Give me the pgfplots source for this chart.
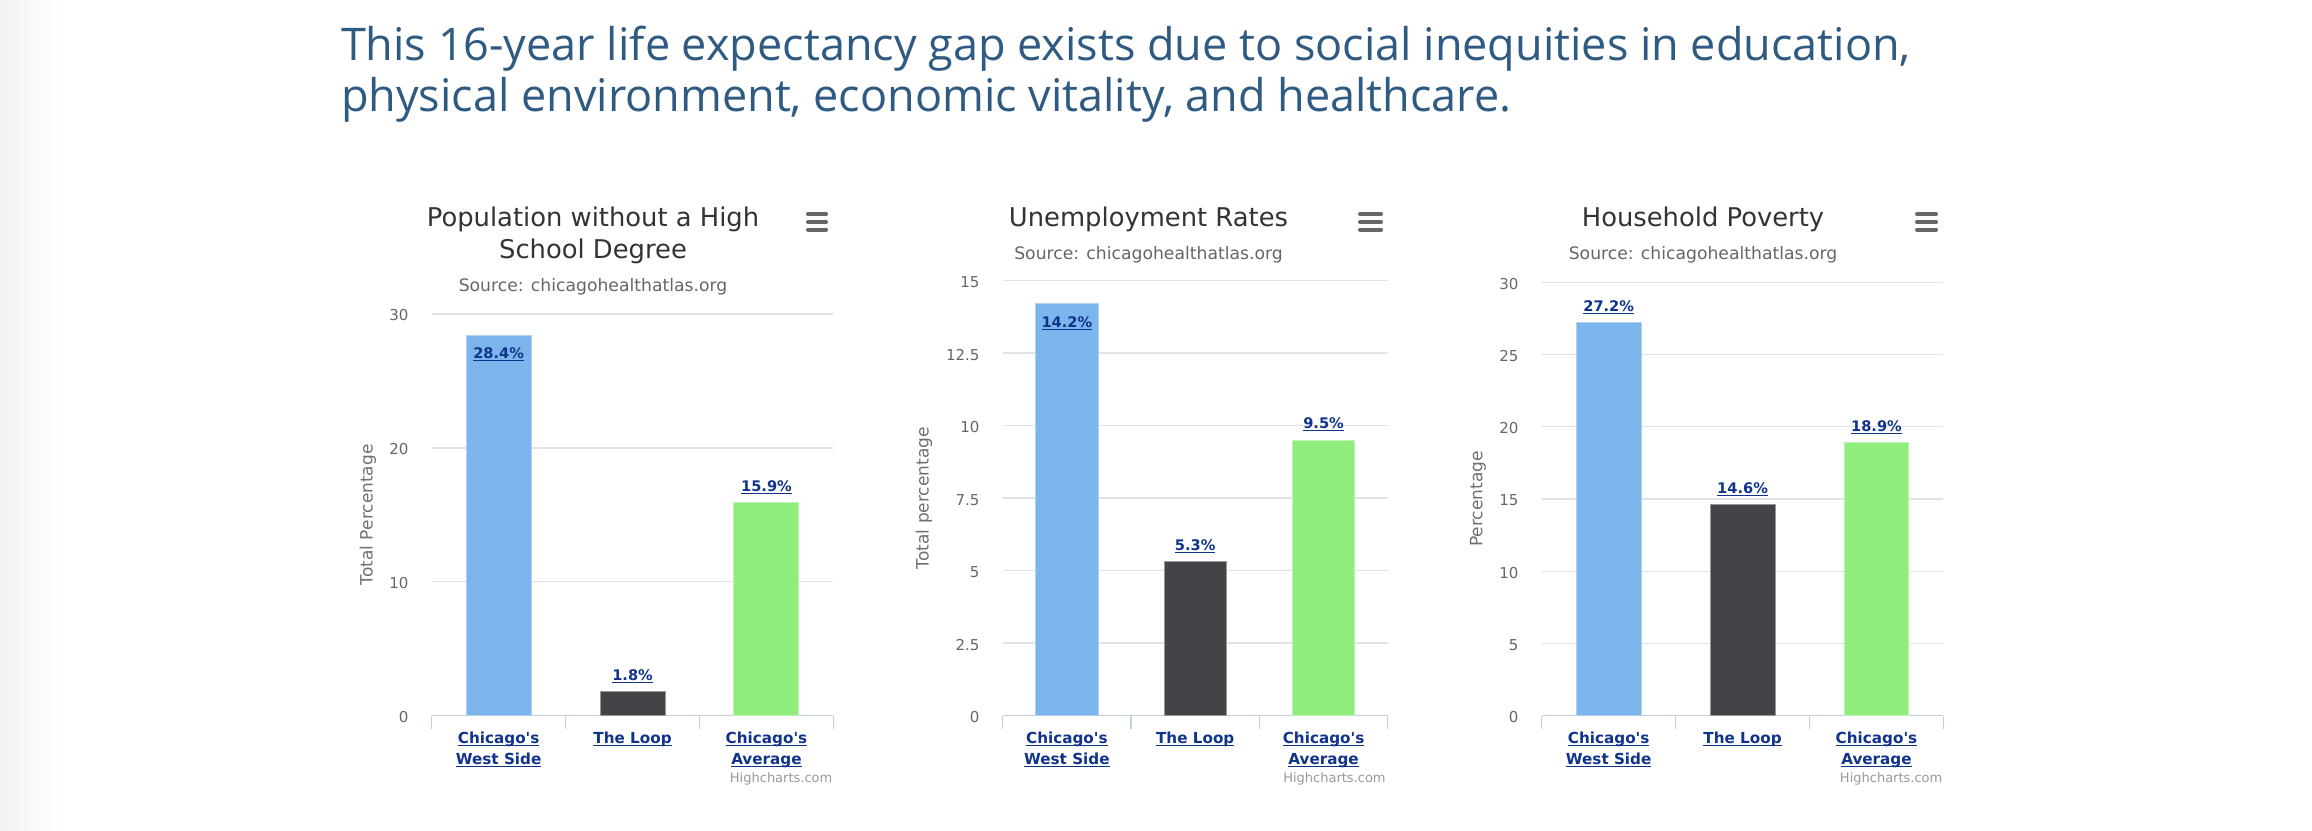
\documentclass[border=0pt]{standalone}
\usepackage{pgfplots}
\pgfplotsset{compat=1.18}
\usepackage{fontspec}
\setmainfont{DejaVu Sans}
\newfontfamily\headfont{Open Sans}
\definecolor{hblue}{HTML}{7CB5EC}
\definecolor{hdark}{HTML}{434348}
\definecolor{hgreen}{HTML}{90ED7D}
\definecolor{gridc}{HTML}{E3E3E3}
\definecolor{axc}{HTML}{C0D0E0}
\definecolor{linkc}{HTML}{10338C}
\definecolor{headc}{HTML}{2F5A82}
\definecolor{titlec}{HTML}{333333}
\definecolor{subc}{HTML}{666666}
\definecolor{axtc}{HTML}{707070}
\definecolor{credc}{HTML}{999999}

\newsavebox\ulbox
\newcommand\ul[1]{\sbox\ulbox{#1}\rlap{\rule[-1.3pt]{\wd\ulbox}{0.5pt}}\usebox\ulbox}

\tikzset{nnc/.style={font=\fontsize{7.3}{8.5}\selectfont\bfseries, text=linkc, anchor=base, inner sep=0pt}}

\pgfplotsset{
  hc/.style={
    scale only axis,
    anchor=south west,
    xmin=-0.5, xmax=2.5, ymin=0,
    axis x line*=bottom, axis y line*=left,
    y axis line style={draw=none,-},
    x axis line style={draw=axc, line width=0.75pt,-},
    ymajorgrids, major grid style={draw=gridc, line width=0.7pt},
    xtick={0,1,2},
    xticklabels={{\ul{Chicago\textquotesingle s}\\\ul{West Side}}, {\ul{The Loop}}, {\ul{Chicago\textquotesingle s}\\\ul{Average}}},
    major tick length=0pt,
    tick style={draw=axc, line width=0.75pt},
    extra x ticks={-0.5,0.5,1.5,2.5},
    extra x tick labels={},
    extra x tick style={tick align=outside, major tick length=6.85pt, grid=none},
    xticklabel style={font=\fontsize{7.6}{10.5}\selectfont\bfseries, text=linkc, align=center, anchor=north, inner sep=0pt, yshift=-8.1pt},
    yticklabel style={font=\fontsize{7.5}{9}\selectfont, text=subc, anchor=east, inner sep=0pt, xshift=-11.4pt, yshift=-0.8pt},
    /pgf/number format/assume math mode=true,
    ylabel style={font=\fontsize{8.5}{10}\selectfont, text=axtc, anchor=center},
    ybar, bar width=0.485, bar shift=0pt,
    nodes near coords={\ul{\pgfmathprintnumber[fixed,fixed zerofill,precision=1]{\pgfplotspointmeta}\%}},
    every node near coord/.style={nnc, yshift=5.7pt},
    clip=false,
  },
}

\begin{document}
\begin{tikzpicture}
\path[use as bounding box, fill=white] (0,0) rectangle (1156pt,415pt);
\shade[left color=black!5, right color=white] (0,0) rectangle (30pt,415pt);

% Header
\node[anchor=base west, inner sep=0pt, font=\headfont\fontsize{22.5}{26}\selectfont, text=headc] at (170.3pt,384.65pt) {This 16-year life expectancy gap exists due to social inequities in education,};
\node[anchor=base west, inner sep=0pt, font=\headfont\fontsize{22.5}{26}\selectfont, text=headc] at (170.3pt,359.15pt) {physical environment, economic vitality, and healthcare.};

% Chart 1
\begin{axis}[hc, at={(215.85pt,57.15pt)}, width=200.85pt, height=200.9pt,
  ymax=30, ytick={0,10,20,30},
  ylabel={Total Percentage}, ylabel style={at={(axis description cs:-0.1586,0.5)}}]
\addplot[fill=hblue, draw=hblue!60!white, line width=0.5pt, every node near coord/.style={nnc, yshift=-11.7pt}] coordinates {(0,28.4)};
\addplot[fill=hdark, draw=hdark!55!white, line width=0.5pt] coordinates {(1,1.8)};
\addplot[fill=hgreen, draw=hgreen!60!white, line width=0.5pt] coordinates {(2,15.9)};
\end{axis}

% Chart 2
\begin{axis}[hc, at={(501.35pt,57.15pt)}, width=192.5pt, height=217.55pt,
  ymax=15, ytick={0,2.5,5,7.5,10,12.5,15},
  ylabel={Total percentage}, ylabel style={at={(axis description cs:-0.2044,0.5)}}]
\addplot[fill=hblue, draw=hblue!60!white, line width=0.5pt, every node near coord/.style={nnc, yshift=-11.7pt}] coordinates {(0,14.2)};
\addplot[fill=hdark, draw=hdark!55!white, line width=0.5pt] coordinates {(1,5.3)};
\addplot[fill=hgreen, draw=hgreen!60!white, line width=0.5pt] coordinates {(2,9.5)};
\end{axis}

% Chart 3
\begin{axis}[hc, at={(770.85pt,57.15pt)}, width=200.85pt, height=216.75pt,
  ymax=30, ytick={0,5,10,15,20,25,30},
  ylabel={Percentage}, ylabel style={at={(axis description cs:-0.1586,0.5)}}]
\addplot[fill=hblue, draw=hblue!60!white, line width=0.5pt] coordinates {(0,27.2)};
\addplot[fill=hdark, draw=hdark!55!white, line width=0.5pt] coordinates {(1,14.6)};
\addplot[fill=hgreen, draw=hgreen!60!white, line width=0.5pt] coordinates {(2,18.9)};
\end{axis}

% Titles
\begin{scope}[every node/.style={inner sep=0pt, anchor=base}]
\node[font=\fontsize{12.9}{16}\selectfont, text=titlec] at (296.5pt,301.65pt) {Population without a High};
\node[font=\fontsize{12.9}{16}\selectfont, text=titlec] at (296.5pt,285.75pt) {School Degree};
\node[font=\fontsize{8.6}{10}\selectfont, text=subc] at (296.5pt,269.15pt) {Source: chicagohealthatlas.org};

\node[font=\fontsize{12.9}{16}\selectfont, text=titlec] at (574.25pt,301.65pt) {Unemployment Rates};
\node[font=\fontsize{8.6}{10}\selectfont, text=subc] at (574.25pt,285.4pt) {Source: chicagohealthatlas.org};

\node[font=\fontsize{12.9}{16}\selectfont, text=titlec] at (851.5pt,301.65pt) {Household Poverty};
\node[font=\fontsize{8.6}{10}\selectfont, text=subc] at (851.5pt,285.4pt) {Source: chicagohealthatlas.org};

\node[anchor=base east, font=\fontsize{6.5}{8}\selectfont, text=credc] at (416.35pt,23.65pt) {Highcharts.com};
\node[anchor=base east, font=\fontsize{6.5}{8}\selectfont, text=credc] at (693pt,23.65pt) {Highcharts.com};
\node[anchor=base east, font=\fontsize{6.5}{8}\selectfont, text=credc] at (971.35pt,23.65pt) {Highcharts.com};
\end{scope}

% Menu icons
\begin{scope}[draw=subc, line width=2pt, line cap=round]
\foreach \y in {307.85,304,300.15} {
  \draw (404pt,\y pt) -- (413pt,\y pt);
  \draw (680pt,\y pt) -- (690.5pt,\y pt);
  \draw (958.5pt,\y pt) -- (968pt,\y pt);
}
\end{scope}
\end{tikzpicture}
\end{document}
